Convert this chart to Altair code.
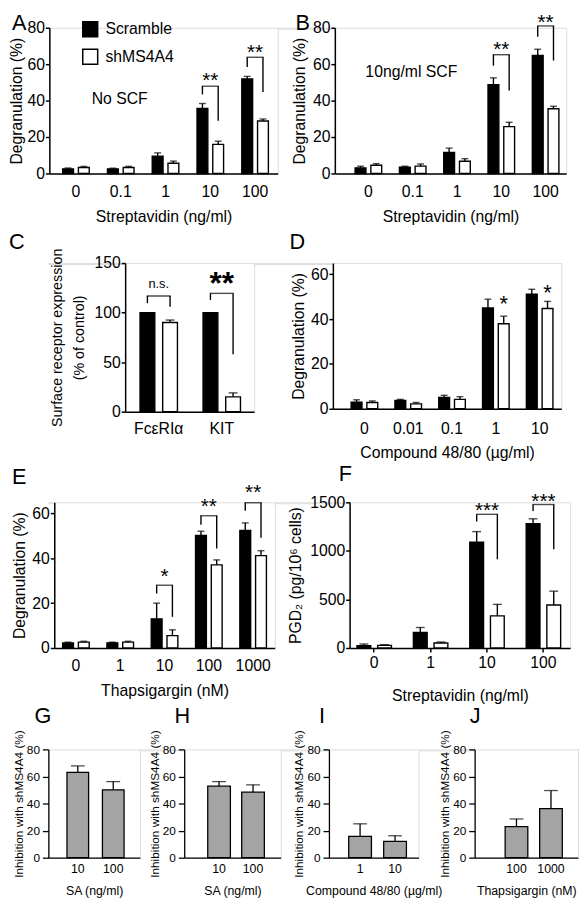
import altair as alt
import pandas as pd

FONT = "Liberation Sans"
SERIES = ["Scramble", "shMS4A4"]

# ---------------- data ----------------
# A: no SCF, streptavidin
A_conc = ["0", "0.1", "1", "10", "100"]
A_scr = [2.5, 2.5, 9.5, 35.7, 51.9]
A_scr_err = [0.5, 0.4, 1.8, 2.7, 1.4]
A_sh = [3.3, 3.3, 5.6, 16.0, 28.8]
A_sh_err = [0.6, 0.6, 1.2, 1.7, 1.1]
A_br_group = ["10", "100"]
A_br_top = [47.9, 63.8]
A_br_left = [43.4, 58.4]
A_br_right = [29.0, 44.7]
A_br_label = ["**", "**"]
A_br_label_y = [54.0, 69.2]

# B: 10 ng/ml SCF, streptavidin
B_conc = ["0", "0.1", "1", "10", "100"]
B_scr = [3.1, 3.4, 11.6, 48.7, 64.8]
B_scr_err = [0.9, 0.6, 2.3, 3.8, 3.4]
B_sh = [4.5, 4.0, 6.7, 25.7, 35.5]
B_sh_err = [0.9, 1.2, 1.4, 2.4, 1.4]
B_br_group = ["10", "100"]
B_br_top = [65.2, 81.0]
B_br_left = [59.2, 75.0]
B_br_right = [45.6, 62.0]
B_br_label = ["**", "**"]
B_br_label_y = [71.0, 86.0]

# C: surface receptor expression
C_rec = ["FcεRIα", "KIT"]
C_scr = [100, 100]
C_scr_err = [0, 0]
C_sh = [90, 15]
C_sh_err = [2.5, 4]
C_br_group = ["FcεRIα", "KIT"]
C_br_top = [116.7, 119.4]
C_br_left = [109.5, 112.8]
C_br_right = [106.0, 58.0]
C_br_label = ["n.s.", "**"]
C_br_label_y = [128.6, 137.0]

# D: compound 48/80
D_conc = ["0", "0.01", "0.1", "1", "10"]
D_scr = [2.9, 3.7, 5.1, 45.0, 51.1]
D_scr_err = [1.1, 0.5, 0.9, 3.9, 2.2]
D_sh = [2.8, 2.2, 4.2, 37.9, 44.7]
D_sh_err = [0.7, 0.6, 1.2, 3.4, 3.2]
D_star_group = ["1", "10"]
D_star_y = [49.2, 54.2]
D_star_label = ["*", "*"]

# E: thapsigargin
E_conc = ["0", "1", "10", "100", "1000"]
E_scr = [2.2, 2.3, 13.0, 50.2, 52.4]
E_scr_err = [0.4, 0.3, 7.0, 1.9, 3.4]
E_sh = [2.6, 2.6, 5.5, 37.1, 41.2]
E_sh_err = [0.4, 0.4, 2.6, 2.2, 2.2]
E_br_group = ["10", "100", "1000"]
E_br_top = [28.0, 59.0, 64.8]
E_br_left = [24.3, 55.0, 61.2]
E_br_right = [13.9, 44.4, 49.2]
E_br_label = ["*", "**", "**"]
E_br_label_y = [34.5, 65.5, 71.7]

# F: PGD2 release
F_conc = ["0", "1", "10", "100"]
F_scr = [24, 160, 1090, 1280]
F_scr_err = [17, 51, 108, 50]
F_sh = [27, 51, 330, 442]
F_sh_err = [7, 10, 119, 143]
F_br_group = ["10", "100"]
F_br_top = [1376, 1477]
F_br_left = [1302, 1409]
F_br_right = [913, 1017]
F_br_label = ["***", "***"]
F_br_label_y = [1476, 1567]

# G-J: inhibition with shMS4A4
G_conc = ["10", "100"]
G_inh = [63.0, 50.1]
G_inh_err = [4.8, 6.1]
H_conc = ["10", "100"]
H_inh = [52.8, 48.4]
H_inh_err = [3.4, 5.4]
I_conc = ["1", "10"]
I_inh = [15.7, 12.1]
I_inh_err = [9.3, 4.1]
J_conc = ["100", "1000"]
J_inh = [23.0, 36.3]
J_inh_err = [5.6, 13.3]


# ---------------- helpers ----------------
def axis_kw(fs, tick=4, w=1.5):
    return dict(domainColor="black", domainWidth=w, tickColor="black", tickWidth=w,
                tickSize=tick, labelColor="black", labelFont=FONT, labelFontSize=fs,
                titleColor="black", titleFont=FONT, titleFontSize=fs,
                titleFontWeight="normal", grid=False)


def long_df(groups, scr, scr_err, sh, sh_err):
    rows = []
    for ser, vals, errs in (("Scramble", scr, scr_err), ("shMS4A4", sh, sh_err)):
        for g, v, e in zip(groups, vals, errs):
            rows.append({"group": g, "series": ser, "value": v, "err": e, "hi": v + e})
    return pd.DataFrame(rows)


def letter_layer(letter, lx, ly, fs=22):
    return alt.Chart(pd.DataFrame({"t": [letter]})).mark_text(
        font=FONT, fontSize=fs, align="left", baseline="alphabetic", color="black"
    ).encode(x=alt.value(lx), y=alt.value(ly), text="t:N")


def bar_panel(letter, lpos, groups, scr, scr_err, sh, sh_err, br, ydomain, yticks,
              ytitle, xtitle, width, height, pi, po, align, barw, sep, capw, star_fs,
              star_bold=False, stars=None, legend=False, note=None, xticks=False,
              ytitle_fs=16, ytitle_lh=None, xlabpad=7, xtitpad=8, ytitpad=6):
    n = len(groups)
    step = width / (n - pi + 2 * po)
    band = step * (1 - pi)
    opi = (sep - barw) / sep
    opo = max(0.0, (band / sep - 2 + opi) / 2)
    df = long_df(groups, scr, scr_err, sh, sh_err)

    ykw = axis_kw(16)
    ykw.update(titleFontSize=ytitle_fs)
    if ytitle_lh:
        ykw.update(titleLineHeight=ytitle_lh)
    yaxis = alt.Axis(title=ytitle, values=yticks, format="d", labelPadding=1,
                     titlePadding=ytitpad, **ykw)
    yscale = alt.Scale(domain=ydomain, nice=False, zero=True)

    xkw = axis_kw(16)
    xaxis = alt.Axis(title=xtitle, labelAngle=0, ticks=xticks, labelPadding=xlabpad,
                     titlePadding=xtitpad, **xkw)
    X = alt.X("group:N", scale=alt.Scale(domain=groups, paddingInner=pi, paddingOuter=po,
                                         align=align), axis=xaxis)
    XO = alt.XOffset("series:N", scale=alt.Scale(domain=SERIES, paddingInner=opi,
                                                 paddingOuter=opo))

    def Y(f):
        return alt.Y(f"{f}:Q", scale=yscale, axis=yaxis)

    if legend:
        leg = alt.Legend(orient="none", legendX=33, legendY=-7, title=None,
                         symbolType="square", symbolSize=230, symbolStrokeColor="black",
                         symbolStrokeWidth=1.5, labelFont=FONT, labelFontSize=16,
                         labelColor="black", rowPadding=5, labelOffset=7)
    else:
        leg = None

    color = alt.Color("series:N", scale=alt.Scale(domain=SERIES, range=["black", "white"]),
                      legend=leg)
    bars = alt.Chart(df).mark_bar(stroke="black", strokeWidth=1.4).encode(
        x=X, xOffset=XO, y=Y("value"), color=color)
    edf = df[df["err"] > 0]
    errs = alt.Chart(edf).mark_rule(color="black", strokeWidth=1.4).encode(
        x=X, xOffset=XO, y=Y("value"), y2="hi:Q")
    caps = alt.Chart(edf).mark_tick(color="black", thickness=1.4, size=capw,
                                    orient="horizontal").encode(x=X, xOffset=XO, y=Y("hi"))
    layers = [bars, errs, caps]

    if br is not None:
        bg, btop, bleft, bright, blab, blaby = br
        legs = []
        for g, t, l, r in zip(bg, btop, bleft, bright):
            legs.append({"group": g, "series": "Scramble", "top": t, "end": l})
            legs.append({"group": g, "series": "shMS4A4", "top": t, "end": r})
        legs_df = pd.DataFrame(legs)
        tops_df = pd.DataFrame({"group": bg, "top": btop})
        lab_df = pd.DataFrame({"group": bg, "label": blab, "ly": blaby})
        layers.append(alt.Chart(legs_df).mark_rule(color="black", strokeWidth=1.4).encode(
            x=X, xOffset=XO, y=Y("top"), y2="end:Q"))
        layers.append(alt.Chart(tops_df).mark_tick(color="black", thickness=1.4,
                                                   size=sep + 1.4, orient="horizontal").encode(
            x=X, y=Y("top")))
        star_df = lab_df[lab_df["label"] != "n.s."]
        ns_df = lab_df[lab_df["label"] == "n.s."]
        layers.append(alt.Chart(star_df).mark_text(
            font=FONT, fontSize=star_fs, fontWeight="bold" if star_bold else "normal",
            baseline="alphabetic", dy=0.58 * star_fs, color="black").encode(
            x=X, y=Y("ly"), text="label:N"))
        if len(ns_df):
            layers.append(alt.Chart(ns_df).mark_text(
                font=FONT, fontSize=13, baseline="alphabetic", dy=3.5, color="black").encode(
                x=X, y=Y("ly"), text="label:N"))
    if stars is not None:
        sg, sy, sl = stars
        sdf = pd.DataFrame({"group": sg, "series": "shMS4A4", "ly": sy, "label": sl})
        layers.append(alt.Chart(sdf).mark_text(
            font=FONT, fontSize=star_fs, baseline="alphabetic", dy=0.58 * star_fs,
            color="black").encode(x=X, xOffset=XO, y=Y("ly"), text="label:N"))
    if note is not None:
        ntext, nx, ny = note
        layers.append(alt.Chart(pd.DataFrame({"t": [ntext]})).mark_text(
            font=FONT, fontSize=16, align="left", baseline="alphabetic", color="black"
        ).encode(x=alt.value(nx), y=alt.value(ny), text="t:N"))
    layers.append(letter_layer(letter, lpos[0], lpos[1]))
    return alt.layer(*layers).properties(width=width, height=height)


def inh_panel(letter, lpos, groups, vals, errs, xtitle, width, pi, po, align, capw):
    df = pd.DataFrame({"group": groups, "value": vals, "err": errs,
                       "hi": [v + e for v, e in zip(vals, errs)]})
    ykw = axis_kw(12, tick=6, w=1.3)
    yaxis = alt.Axis(title="Inhibition with shMS4A4 (%)", values=[0, 20, 40, 60, 80],
                     labelPadding=3, titlePadding=1, **ykw)
    yscale = alt.Scale(domain=[0, 80], nice=False, zero=True)
    xkw = axis_kw(12.5, w=1.3)
    xaxis = alt.Axis(title=xtitle, labelAngle=0, ticks=False, labelPadding=5,
                     titlePadding=10, **xkw)
    X = alt.X("group:N", scale=alt.Scale(domain=groups, paddingInner=pi, paddingOuter=po,
                                         align=align), axis=xaxis)

    def Y(f):
        return alt.Y(f"{f}:Q", scale=yscale, axis=yaxis)

    bars = alt.Chart(df).mark_bar(color="#a4a4a4", stroke="black", strokeWidth=1.3).encode(
        x=X, y=Y("value"))
    er = alt.Chart(df).mark_rule(color="black", strokeWidth=1.3).encode(
        x=X, y=Y("value"), y2="hi:Q")
    cp = alt.Chart(df).mark_tick(color="black", thickness=1.3, size=capw,
                                 orient="horizontal").encode(x=X, y=Y("hi"))
    return alt.layer(bars, er, cp, letter_layer(letter, lpos[0], lpos[1])).properties(
        width=width, height=110)


def spacer(w, h):
    return alt.Chart(pd.DataFrame({"v": [0]})).transform_filter("false").mark_point().encode(
        x=alt.X("v:Q", axis=None), y=alt.Y("v:Q", axis=None)).properties(width=w, height=h)


def hrow(*cells):
    items = [spacer(c, 1) if isinstance(c, int) else c for c in cells]
    return alt.hconcat(*items, spacing=0, bounds="flush").resolve_scale(
        color="independent", xOffset="independent").resolve_legend(color="independent")


def vcat(*charts, spacing):
    return alt.vconcat(*charts, spacing=spacing).resolve_scale(
        color="independent", xOffset="independent").resolve_legend(color="independent")


# ---------------- panels ----------------
pA = bar_panel("A", (-38, 2), A_conc, A_scr, A_scr_err, A_sh, A_sh_err,
               (A_br_group, A_br_top, A_br_left, A_br_right, A_br_label, A_br_label_y),
               [0, 80], [0, 20, 40, 60, 80], "Degranulation (%)", "Streptavidin (ng/ml)",
               232, 148, 0.3, 0.2, 0.61, 11, 16, 7, 21, legend=True,
               note=("No SCF", 43, 77), xlabpad=10, xtitpad=10, ytitpad=2)
pB = bar_panel("B", (-40, 2), B_conc, B_scr, B_scr_err, B_sh, B_sh_err,
               (B_br_group, B_br_top, B_br_left, B_br_right, B_br_label, B_br_label_y),
               [0, 80], [0, 20, 40, 60, 80], "Degranulation (%)", "Streptavidin (ng/ml)",
               235, 148, 0.3, 0.261, 0.78, 11, 16, 7, 21,
               note=("10ng/ml SCF", 31, 50), xlabpad=10, xtitpad=10, ytitpad=5)
pC = bar_panel("C", (-118, -14), C_rec, C_scr, C_scr_err, C_sh, C_sh_err,
               (C_br_group, C_br_top, C_br_left, C_br_right, C_br_label, C_br_label_y),
               [0, 150], [0, 50, 100, 150],
               ["Surface receptor expression", "(% of control)"], None,
               131, 151, 0.28, 0.163, 0.53, 15, 23, 9, 32, star_bold=True,
               ytitle_fs=14.5, ytitle_lh=22, xlabpad=9, ytitpad=8)
pD = bar_panel("D", (-44, -14), D_conc, D_scr, D_scr_err, D_sh, D_sh_err, None,
               [0, 65], [0, 20, 40, 60], "Degranulation (%)", "Compound 48/80 (µg/ml)",
               232, 148, 0.3, 0.257, 0.72, 11, 16, 7, 22,
               stars=(D_star_group, D_star_y, D_star_label), xlabpad=12, xtitpad=9, ytitpad=4)
pE = bar_panel("E", (-43, -19), E_conc, E_scr, E_scr_err, E_sh, E_sh_err,
               (E_br_group, E_br_top, E_br_left, E_br_right, E_br_label, E_br_label_y),
               [0, 65], [0, 20, 40, 60], "Degranulation (%)", "Thapsigargin (nM)",
               224, 148, 0.3, 0.139, 0.5, 11, 16, 7, 21, xlabpad=10, xtitpad=9, ytitpad=4)
pF = bar_panel("F", (-11, -22), F_conc, F_scr, F_scr_err, F_sh, F_sh_err,
               (F_br_group, F_br_top, F_br_left, F_br_right, F_br_label, F_br_label_y),
               [0, 1500], [0, 500, 1000, 1500], "PGD₂ (pg/10⁶ cells)", "Streptavidin (ng/ml)",
               224, 148, 0.3, 0.105, 0.41, 14, 21, 9, 21, xticks=True,
               xlabpad=3, xtitpad=17, ytitpad=6)

pG = inh_panel("G", (-14, -27), G_conc, G_inh, G_inh_err, "SA (ng/ml)", 93, 0.39, 0.486, 0.54, 14)
pH = inh_panel("H", (-10, -27), H_conc, H_inh, H_inh_err, "SA (ng/ml)", 98, 0.333, 0.587, 0.59, 14)
pI = inh_panel("I", (-10, -27), I_conc, I_inh, I_inh_err, "Compound 48/80 (µg/ml)", 91, 0.35, 0.456, 0.62, 14)
pJ = inh_panel("J", (-5, -27), J_conc, J_inh, J_inh_err, "Thapsigargin (nM)", 105, 0.343, 0.67, 0.66, 14)

# ---------------- layout: rows of panels with spacer gaps ----------------
row1 = hrow(1, pA, 58, pB)
row2 = hrow(78, pC, 80, pD)
row3 = hrow(6, pE, 76, pF)
row4 = hrow(pG, 45, pH, 49, pI, 57, pJ)

chart = vcat(row1, vcat(row2, vcat(row3, row4, spacing=0), spacing=0), spacing=5).properties(
    padding={"left": 0, "top": -4, "right": 0, "bottom": 0}
).configure_view(stroke="transparent", strokeWidth=0).configure(font=FONT)

chart.save("out.html", embed_options={"renderer": "svg", "actions": False})
